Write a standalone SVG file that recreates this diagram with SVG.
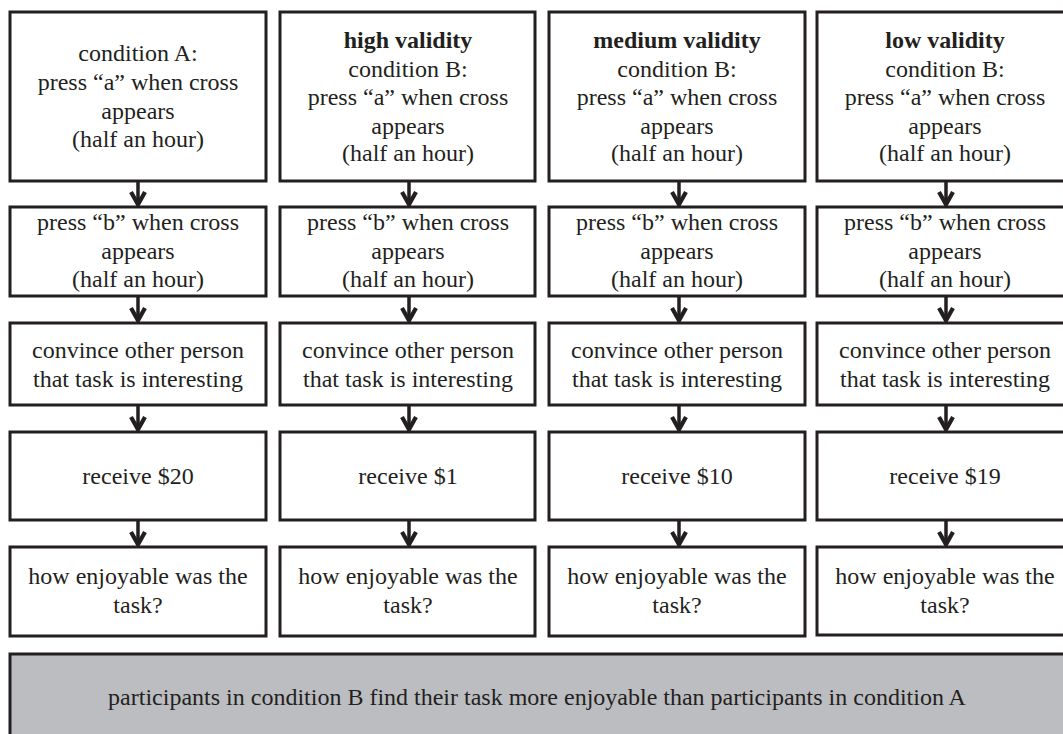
<svg xmlns="http://www.w3.org/2000/svg" width="1063" height="734" viewBox="0 0 1063 734">
<defs>
<style>
.box{fill:#ffffff;stroke:#231f20;stroke-width:3}
.sum{fill:#bcbdc0;stroke:#231f20;stroke-width:3}
text{font-family:"Liberation Serif","Times New Roman",serif;font-size:24px;fill:#231f20;text-anchor:middle}
.b{font-weight:bold}
.conn line{stroke:#231f20;stroke-width:3.5;marker-end:url(#ah)}
</style>
<marker id="ah" markerUnits="userSpaceOnUse" viewBox="-16 -10 18 20" refX="0" refY="0" markerWidth="18" markerHeight="20" orient="auto">
<path d="M-13,-7 L-0.5,0 L-13,7" fill="none" stroke="#231f20" stroke-width="4.2" stroke-linejoin="miter"/>
</marker>
</defs>
<rect width="1063" height="734" fill="#ffffff"/>

<!-- column 1 -->
<g id="c1r1"><rect class="box" x="10" y="12" width="256" height="169"/>
<text x="138" y="61">condition A:</text><text x="138" y="90">press “a” when cross</text><text x="138" y="118.5">appears</text><text x="138" y="147">(half an hour)</text></g>
<g id="c1r2"><rect class="box" x="10" y="207" width="256" height="89"/>
<text x="138" y="230">press “b” when cross</text><text x="138" y="258.5">appears</text><text x="138" y="287">(half an hour)</text></g>
<g id="c1r3"><rect class="box" x="10" y="323" width="256" height="82"/>
<text x="138" y="358">convince other person</text><text x="138" y="387">that task is interesting</text></g>
<g id="c1r4"><rect class="box" x="10" y="432" width="256" height="88"/>
<text x="138" y="484">receive $20</text></g>
<g id="c1r5"><rect class="box" x="10" y="547" width="256" height="89"/>
<text x="138" y="584">how enjoyable was the</text><text x="138" y="613">task?</text></g>

<!-- column 2 -->
<g id="c2r1"><rect class="box" x="280" y="12" width="255" height="169"/>
<text class="b" x="408" y="48">high validity</text><text x="408" y="76.5">condition B:</text><text x="408" y="105">press “a” when cross</text><text x="408" y="133.5">appears</text><text x="408" y="161">(half an hour)</text></g>
<g id="c2r2"><rect class="box" x="280" y="207" width="255" height="89"/>
<text x="408" y="230">press “b” when cross</text><text x="408" y="258.5">appears</text><text x="408" y="287">(half an hour)</text></g>
<g id="c2r3"><rect class="box" x="280" y="323" width="255" height="82"/>
<text x="408" y="358">convince other person</text><text x="408" y="387">that task is interesting</text></g>
<g id="c2r4"><rect class="box" x="280" y="432" width="255" height="88"/>
<text x="408" y="484">receive $1</text></g>
<g id="c2r5"><rect class="box" x="280" y="547" width="255" height="89"/>
<text x="408" y="584">how enjoyable was the</text><text x="408" y="613">task?</text></g>

<!-- column 3 -->
<g id="c3r1"><rect class="box" x="549" y="12" width="256" height="169"/>
<text class="b" x="677" y="48">medium validity</text><text x="677" y="76.5">condition B:</text><text x="677" y="105">press “a” when cross</text><text x="677" y="133.5">appears</text><text x="677" y="161">(half an hour)</text></g>
<g id="c3r2"><rect class="box" x="549" y="207" width="256" height="89"/>
<text x="677" y="230">press “b” when cross</text><text x="677" y="258.5">appears</text><text x="677" y="287">(half an hour)</text></g>
<g id="c3r3"><rect class="box" x="549" y="323" width="256" height="82"/>
<text x="677" y="358">convince other person</text><text x="677" y="387">that task is interesting</text></g>
<g id="c3r4"><rect class="box" x="549" y="432" width="256" height="88"/>
<text x="677" y="484">receive $10</text></g>
<g id="c3r5"><rect class="box" x="549" y="547" width="256" height="89"/>
<text x="677" y="584">how enjoyable was the</text><text x="677" y="613">task?</text></g>

<!-- column 4 -->
<g id="c4r1"><rect class="box" x="817" y="12" width="258" height="169"/>
<text class="b" x="945" y="48">low validity</text><text x="945" y="76.5">condition B:</text><text x="945" y="105">press “a” when cross</text><text x="945" y="133.5">appears</text><text x="945" y="161">(half an hour)</text></g>
<g id="c4r2"><rect class="box" x="817" y="207" width="258" height="89"/>
<text x="945" y="230">press “b” when cross</text><text x="945" y="258.5">appears</text><text x="945" y="287">(half an hour)</text></g>
<g id="c4r3"><rect class="box" x="817" y="323" width="258" height="82"/>
<text x="945" y="358">convince other person</text><text x="945" y="387">that task is interesting</text></g>
<g id="c4r4"><rect class="box" x="817" y="432" width="258" height="88"/>
<text x="945" y="484">receive $19</text></g>
<g id="c4r5"><rect class="box" x="817" y="547" width="258" height="88"/>
<text x="945" y="584">how enjoyable was the</text><text x="945" y="613">task?</text></g>

<!-- summary -->
<g id="summary"><rect class="sum" x="10" y="654" width="1065" height="90"/>
<text x="537" y="705">participants in condition B find their task more enjoyable than participants in condition A</text></g>

<g class="conn" id="connectors">
<line x1="138" y1="181" x2="138" y2="205"/>
<line x1="138" y1="296" x2="138" y2="321"/>
<line x1="138" y1="405" x2="138" y2="430"/>
<line x1="138" y1="520" x2="138" y2="545"/>
<line x1="409" y1="181" x2="409" y2="205"/>
<line x1="409" y1="296" x2="409" y2="321"/>
<line x1="409" y1="405" x2="409" y2="430"/>
<line x1="409" y1="520" x2="409" y2="545"/>
<line x1="679" y1="181" x2="679" y2="205"/>
<line x1="679" y1="296" x2="679" y2="321"/>
<line x1="679" y1="405" x2="679" y2="430"/>
<line x1="679" y1="520" x2="679" y2="545"/>
<line x1="946" y1="181" x2="946" y2="205"/>
<line x1="946" y1="296" x2="946" y2="321"/>
<line x1="946" y1="405" x2="946" y2="430"/>
<line x1="946" y1="520" x2="946" y2="545"/>
</g>
</svg>
